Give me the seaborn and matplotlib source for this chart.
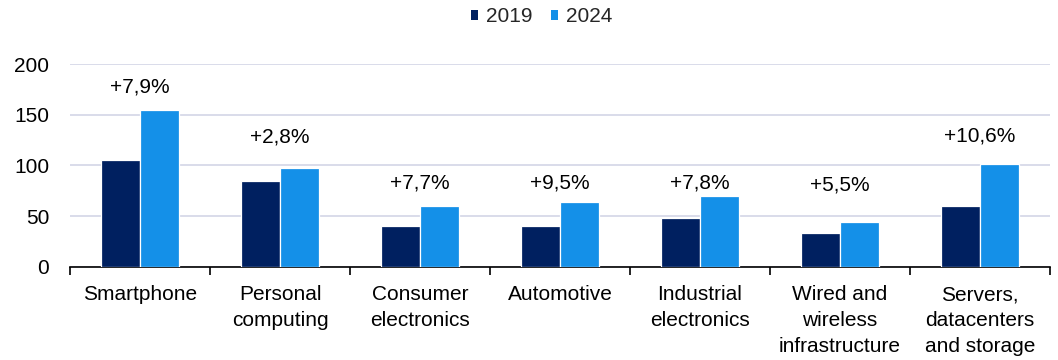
import matplotlib
matplotlib.use("Agg")
import matplotlib.pyplot as plt
import seaborn as sns
import pandas as pd
from matplotlib.patches import Patch

categories = ["Smartphone", "Personal\ncomputing", "Consumer\nelectronics", "Automotive",
              "Industrial\nelectronics", "Wired and\nwireless\ninfrastructure",
              "Servers,\ndatacenters\nand storage"]
values_2019 = [105, 85, 40, 40, 48, 33, 60]
values_2024 = [155, 98, 60, 64, 70, 44, 101]
growth_labels = ["+7,9%", "+2,8%", "+7,7%", "+9,5%", "+7,8%", "+5,5%", "+10,6%"]
label_y = [178, 128, 83, 83, 83, 81, 129]
years = ["2019", "2024"]
colors = ["#002060", "#1490E8"]

df = pd.DataFrame({
    "category": categories * 2,
    "year": [years[0]] * len(categories) + [years[1]] * len(categories),
    "value": values_2019 + values_2024,
})

sns.set_theme(style="white")
plt.rcParams["font.family"] = ["Liberation Sans", "DejaVu Sans"]

FS = 15

fig = plt.figure(figsize=(10.58, 3.6), dpi=100)
ax = fig.add_axes([0.0662, 0.2592, 0.9262, 0.5622])

sns.barplot(data=df, x="category", y="value", hue="year", palette=colors,
            order=categories, hue_order=years, width=0.56, ax=ax, saturation=1,
            edgecolor="white", linewidth=0.9, legend=False, zorder=3)

for i, (t, y) in enumerate(zip(growth_labels, label_y)):
    ax.text(i, y, t, ha="center", va="center", fontsize=FS, color="#000000")

ax.set_ylim(0, 200)
ax.set_xlim(-0.5, len(categories) - 0.5)
ax.set_yticks([0, 50, 100, 150, 200])
ax.yaxis.grid(True, color="#D3D6E6", linewidth=1.2, zorder=0)
ax.set_axisbelow(True)
ax.set_xlabel("")
ax.set_ylabel("")
for s in ["top", "right", "left"]:
    ax.spines[s].set_visible(False)
ax.spines["bottom"].set_color("#000000")
ax.spines["bottom"].set_linewidth(1.2)

ax.set_xticks(range(len(categories)))
ax.set_xticklabels(categories, fontsize=FS, linespacing=1.45, va="top")
ax.tick_params(axis="x", length=0, pad=13.5, colors="#000000")
ax.set_xticks([i - 0.5 for i in range(len(categories) + 1)], minor=True)
ax.tick_params(axis="x", which="minor", length=6, width=1.2, color="#000000", direction="out", bottom=True)
ax.tick_params(axis="y", length=0, pad=15, labelsize=FS, colors="#000000")

handles = [Patch(facecolor=c, edgecolor="none", label=y) for c, y in zip(colors, years)]
fig.legend(handles=handles, loc="center", bbox_to_anchor=(0.512, 0.953), ncol=2, frameon=False,
           fontsize=FS, handlelength=0.36, handleheight=0.36, handletextpad=0.4, columnspacing=0.85)

fig.savefig("out.png", dpi=100)
